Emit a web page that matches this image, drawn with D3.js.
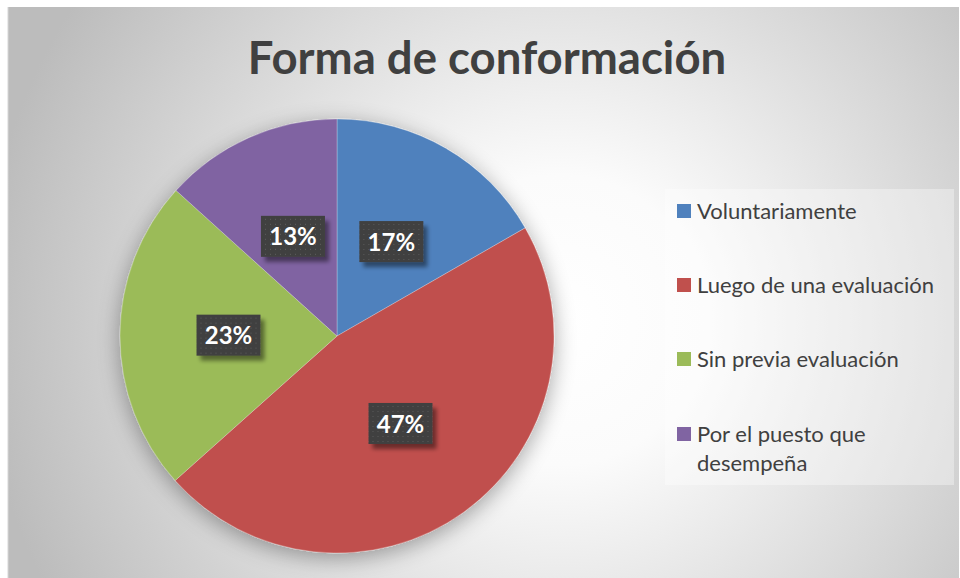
<!DOCTYPE html>
<html><head><meta charset="utf-8">
<script src="https://cdn.jsdelivr.net/npm/d3@7"></script>
<style>html,body{margin:0;padding:0;background:#fff;}svg{display:block;}</style>
</head><body>
<svg id="c" width="960" height="578"></svg>
<script>
const categories = ["Voluntariamente", "Luego de una evaluación", "Sin previa evaluación", "Por el puesto que desempeña"];
const values = [16.7, 46.7, 23.3, 13.3];
const colors = ["#4f81bd", "#c0504d", "#9bbb59", "#8064a2"];
const title = "Forma de conformación";

const svg = d3.select("#c");
const defs = svg.append("defs");

const bg = defs.append("radialGradient").attr("id","bg").attr("gradientUnits","userSpaceOnUse")
  .attr("cx",560).attr("cy",320).attr("r",580);
bg.append("stop").attr("offset","0%").attr("stop-color","#ffffff");
bg.append("stop").attr("offset","25%").attr("stop-color","#fbfbfb");
bg.append("stop").attr("offset","100%").attr("stop-color","#bcbcbc");

const sh = defs.append("filter").attr("id","pieShadow").attr("x","-20%").attr("y","-20%").attr("width","140%").attr("height","140%");
sh.append("feGaussianBlur").attr("in","SourceAlpha").attr("stdDeviation",11).attr("result","b");
sh.append("feOffset").attr("in","b").attr("dx",0).attr("dy",5).attr("result","o");
sh.append("feComponentTransfer").attr("in","o").attr("result","o2")
  .append("feFuncA").attr("type","linear").attr("slope",0.35);
const m = sh.append("feMerge");
m.append("feMergeNode").attr("in","o2");
m.append("feMergeNode").attr("in","SourceGraphic");

const ls = defs.append("filter").attr("id","lblShadow").attr("x","-30%").attr("y","-30%").attr("width","160%").attr("height","160%");
ls.append("feGaussianBlur").attr("in","SourceAlpha").attr("stdDeviation",2).attr("result","b");
ls.append("feOffset").attr("in","b").attr("dx",4).attr("dy",5).attr("result","o");
ls.append("feComponentTransfer").attr("in","o").attr("result","o2")
  .append("feFuncA").attr("type","linear").attr("slope",0.45);
const m2 = ls.append("feMerge");
m2.append("feMergeNode").attr("in","o2");
m2.append("feMergeNode").attr("in","SourceGraphic");

const pat = defs.append("pattern").attr("id","dots").attr("patternUnits","userSpaceOnUse").attr("width",5).attr("height",5);
pat.append("rect").attr("width",5).attr("height",5).attr("fill","#3f3f3f");
pat.append("rect").attr("x",2).attr("y",2).attr("width",1).attr("height",1).attr("fill","#5e5e5e");

svg.append("rect").attr("x",8).attr("y",7).attr("width",951).attr("height",571).attr("fill","url(#bg)");
svg.append("line").attr("x1",8).attr("x2",8).attr("y1",7).attr("y2",578).attr("stroke","#d6d6d6");

svg.append("text").attr("x",487).attr("y",74).attr("text-anchor","middle")
  .attr("font-family","Lato, 'Open Sans', sans-serif").attr("font-weight","bold").attr("font-size",45.5)
  .attr("fill","#404040").text(title);

const cx = 337, cy = 336, r = 217;
const pie = d3.pie().sort(null).value(d => d);
const arcs = pie(values);
const arc = d3.arc().innerRadius(0).outerRadius(r);
const total = d3.sum(values);

const g = svg.append("g").attr("transform",`translate(${cx},${cy})`);
g.append("g").attr("filter","url(#pieShadow)").selectAll("path").data(arcs).join("path")
  .attr("d",arc).attr("fill",(d,i)=>colors[i]).attr("stroke","#ffffff").attr("stroke-width",0.5).attr("stroke-opacity",0.5);

const lab = g.selectAll("g.lab").data(arcs).join("g").attr("class","lab")
  .attr("transform",d=>{const c=arc.centroid(d);return `translate(${c[0]},${c[1]})`;});
lab.append("rect").attr("x",-32).attr("y",-21).attr("width",64).attr("height",41)
  .attr("fill","url(#dots)").attr("filter","url(#lblShadow)");
lab.append("text").attr("text-anchor","middle").attr("dy","0.36em")
  .attr("font-family","Lato, 'Open Sans', sans-serif").attr("font-weight","bold").attr("font-size",24)
  .attr("fill","#ffffff").text(d=>Math.round(d.value/total*100)+"%");

// legend
svg.append("rect").attr("x",665).attr("y",189).attr("width",289).attr("height",296)
  .attr("fill","#ffffff").attr("fill-opacity",0.35);
const ly = [211, 285, 359, 434];
const lg = svg.selectAll("g.leg").data(categories).join("g").attr("class","leg")
  .attr("transform",(d,i)=>`translate(677,${ly[i]})`);
lg.append("rect").attr("x",0).attr("y",-7).attr("width",14).attr("height",14).attr("fill",(d,i)=>colors[i]);
lg.append("text").attr("x",20).attr("dy","0.35em")
  .attr("font-family","Lato, 'Open Sans', sans-serif").attr("font-size",22).attr("fill","#404040")
  .each(function(d){
    const t = d3.select(this);
    if (d === "Por el puesto que desempeña") {
      t.append("tspan").attr("x",20).text("Por el puesto que");
      t.append("tspan").attr("x",20).attr("dy",29).text("desempeña");
    } else t.text(d);
  });
</script>
</body></html>
